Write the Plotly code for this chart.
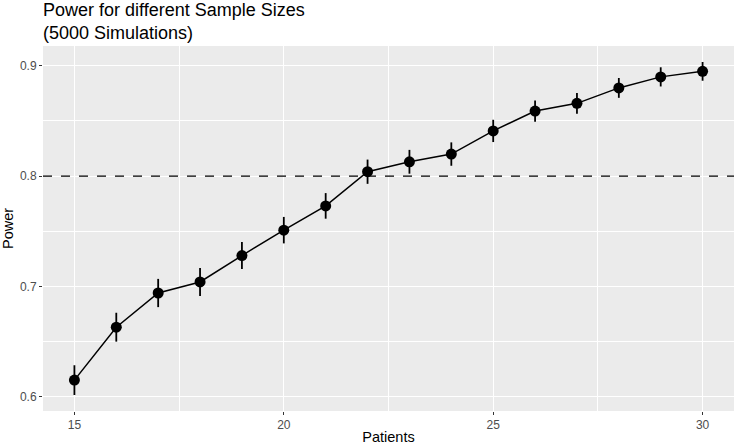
import plotly.graph_objects as go

patients = [15, 16, 17, 18, 19, 20, 21, 22, 23, 24, 25, 26, 27, 28, 29, 30]
power = [0.615, 0.663, 0.694, 0.704, 0.728, 0.751, 0.773, 0.804, 0.813, 0.820,
         0.841, 0.859, 0.866, 0.880, 0.890, 0.895]
ci_half = [0.0135, 0.0131, 0.0128, 0.0126, 0.0123, 0.0120, 0.0116, 0.0110, 0.0108,
           0.0106, 0.0101, 0.0096, 0.0094, 0.0090, 0.0087, 0.0085]
threshold = 0.8
x_ticks = [15, 20, 25, 30]
y_ticks = [0.6, 0.7, 0.8, 0.9]

FONT = "Liberation Sans, Arial, sans-serif"

fig = go.Figure()
fig.add_trace(go.Scatter(
    x=patients, y=power, mode="lines+markers",
    line=dict(color="black", width=1.5),
    marker=dict(color="black", size=11),
    error_y=dict(type="data", array=ci_half, visible=True, color="black",
                 thickness=1.8, width=0),
    showlegend=False,
))
fig.add_hline(y=threshold, line=dict(color="black", width=1.3, dash="dash"))

axis_common = dict(
    showline=False, zeroline=False, automargin=False,
    gridcolor="white", gridwidth=1.3,
    ticks="outside", ticklen=3, tickcolor="#333333", tickwidth=1,
    tickfont=dict(family=FONT, size=12, color="#4d4d4d"),
    minor=dict(showgrid=True, gridcolor="white", gridwidth=0.6),
)

fig.update_xaxes(
    range=[14.25, 30.75], tickvals=x_ticks, ticktext=[str(v) for v in x_ticks],
    minor_tickvals=[17.5, 22.5, 27.5],
    title=dict(text="Patients", font=dict(family=FONT, size=14.5, color="black"), standoff=4),
    **axis_common,
)
fig.update_yaxes(
    range=[0.587, 0.918], tickvals=y_ticks, ticktext=[f"{v:.1f}" for v in y_ticks],
    minor_tickvals=[0.65, 0.75, 0.85],
    title=dict(text="Power", font=dict(family=FONT, size=14.5, color="black"), standoff=5),
    **axis_common,
)

fig.update_layout(
    width=734, height=445,
    margin=dict(l=43, r=0, t=46, b=34),
    plot_bgcolor="#EBEBEB", paper_bgcolor="white",
    font=dict(family=FONT),
    annotations=[dict(
        text="Power for different Sample Sizes<br>(5000 Simulations)",
        font=dict(family=FONT, size=18, color="black"),
        xref="paper", x=0, xanchor="left", xshift=-2,
        yref="paper", y=1, yanchor="bottom", yshift=1,
        align="left", showarrow=False,
    )],
)

fig.write_html("out.html")
